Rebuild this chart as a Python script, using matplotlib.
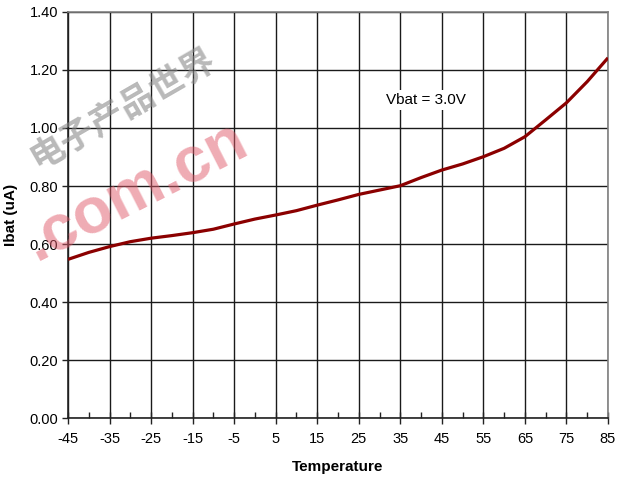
import matplotlib
matplotlib.use("Agg")
import matplotlib.pyplot as plt
from matplotlib.ticker import MultipleLocator, FormatStrFormatter

temperature = [-45, -40, -35, -30, -25, -20, -15, -10, -5, 0, 5, 10, 15, 20,
               25, 30, 35, 40, 45, 50, 55, 60, 65, 70, 75, 80, 85]
ibat = [0.547, 0.571, 0.591, 0.608, 0.620, 0.629, 0.639, 0.651, 0.669, 0.686,
        0.700, 0.715, 0.734, 0.752, 0.771, 0.786, 0.801, 0.829, 0.855, 0.876,
        0.901, 0.930, 0.970, 1.028, 1.087, 1.160, 1.242]
x_ticks = list(range(-45, 86, 10))
annotation = "Vbat = 3.0V"

plt.rcParams['font.family'] = ['Liberation Sans', 'DejaVu Sans']
plt.rcParams['axes.unicode_minus'] = False

fig = plt.figure(figsize=(6.32, 4.82), dpi=100)
ax = fig.add_axes([68/632, 1-418/482, 540/632, 406/482])

ax.plot(temperature, ibat, color='#8b0000', lw=2.3, solid_capstyle='butt', zorder=3)

ax.set_xlim(-45, 85)
ax.set_ylim(0, 1.4)
ax.set_xticks(x_ticks)
ax.xaxis.set_minor_locator(MultipleLocator(5))
ax.yaxis.set_major_locator(MultipleLocator(0.2))
ax.yaxis.set_major_formatter(FormatStrFormatter('%.2f'))
ax.grid(True, which='major', color='#1a1a1a', lw=1.0)
ax.set_axisbelow(True)

ax.tick_params(axis='x', which='major', direction='inout', length=8, width=1,
               labelsize=10.5, pad=6, color='#222222')
ax.tick_params(axis='x', which='minor', direction='in', length=4, width=1,
               color='#222222')
ax.tick_params(axis='y', which='major', direction='out', length=4, width=1,
               labelsize=10.5, pad=3, color='#222222')

for s in ['left', 'bottom']:
    ax.spines[s].set_color('#222222')
    ax.spines[s].set_linewidth(1.2)
for s in ['top', 'right']:
    ax.spines[s].set_color('#808080')
    ax.spines[s].set_linewidth(1.2)

ax.set_xlabel('Temperature', fontsize=11, fontweight='bold', labelpad=10)
ax.set_ylabel('Ibat (uA)', fontsize=11, fontweight='bold', labelpad=8)

ax.text(41.2, 1.097, annotation, fontsize=11, ha='center', va='center',
        bbox=dict(facecolor='white', edgecolor='none', pad=2), zorder=4)

# watermark on top, semi-transparent
fig.text(122/632, 1-108/482, "电子产品世界", fontsize=25, color='#8a8a8a', alpha=0.6,
         rotation=30, ha='center', va='center', family=['Noto Sans CJK SC'],
         fontweight='bold', zorder=5)
fig.text(136/632, 1-192/482, ".com.cn", fontsize=46, color='#e05a6a', alpha=0.5,
         rotation=27, ha='center', va='center', fontweight='bold',
         family=['Liberation Sans'], zorder=5)

fig.savefig('out.png', dpi=100)
